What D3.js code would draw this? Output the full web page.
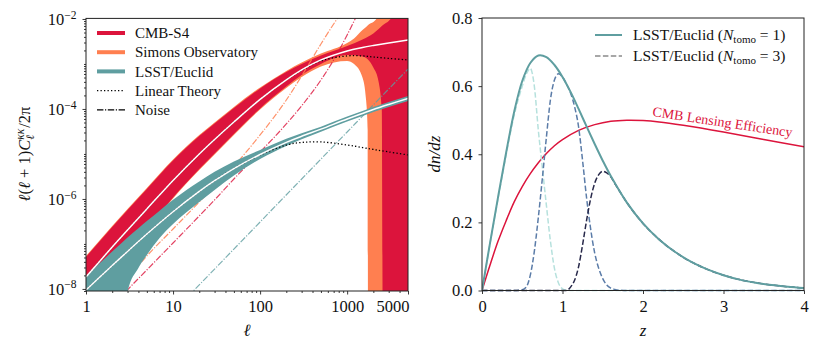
<!DOCTYPE html>
<html><head><meta charset="utf-8">
<script src="https://cdn.jsdelivr.net/npm/d3@7"></script>
<style>
body{margin:0;background:#fff}
svg text{font-family:'Liberation Serif','Times New Roman',serif;fill:#111}
</style></head>
<body><svg id="c" width="830" height="356"></svg>
<script>
// ---------------- data: left panel (multipole ell) ----------------
const ells      = [1,2,3,5,10,20,30,50,100,200,300,500,1000,1500,2000,3000,5000];
const cmbSignal = [1.85e-8,8.57e-8,2.05e-7,6.0e-7,2.58e-6,1.0e-5,2.10e-5,5.14e-5,1.63e-4,4.41e-4,7.36e-4,1.23e-3,1.95e-3,2.33e-3,2.58e-3,2.93e-3,3.41e-3];
const cmbLinear = [1.85e-8,8.57e-8,2.05e-7,6.0e-7,2.58e-6,1.0e-5,2.10e-5,5.14e-5,1.63e-4,4.41e-4,7.2e-4,1.17e-3,1.51e-3,1.51e-3,1.43e-3,1.33e-3,1.23e-3];
const galSignal = [9.5e-9,3.31e-8,6.81e-8,1.66e-7,5.20e-7,1.47e-6,2.54e-6,4.74e-6,9.75e-6,1.81e-5,2.47e-5,3.56e-5,6.0e-5,7.94e-5,9.75e-5,1.26e-4,1.71e-4];
const galLinear = [9.5e-9,3.31e-8,6.81e-8,1.66e-7,5.20e-7,1.47e-6,2.54e-6,4.74e-6,9.5e-6,1.58e-5,1.80e-5,1.85e-5,1.58e-5,1.39e-5,1.26e-5,1.11e-5,9.5e-6];

const galEll    = [1,2,2.6,3,4,5,7,10,20,30,50,100,200,300,500,1000,1500,2000,3000,5000];
const galUpper  = [1.95e-8,6.78e-8,1.08e-7,1.39e-7,2.24e-7,3.23e-7,5.50e-7,9.6e-7,2.45e-6,4.02e-6,6.78e-6,1.23e-5,2.17e-5,2.88e-5,4.05e-5,6.81e-5,9.03e-5,1.11e-4,1.43e-4,1.95e-4];
const galLower  = [0,0,0,8.57e-9,2.93e-8,5.70e-8,1.36e-7,2.78e-7,8.57e-7,1.58e-6,3.31e-6,7.74e-6,1.51e-5,2.12e-5,3.13e-5,5.28e-5,6.99e-5,8.57e-5,1.11e-4,1.51e-4];

const s4Ells  = [1,2,3,5,10,20,30,50,100,200,300,500,1000,1500,2000,2300,2500,2580,3000,5000];
const s4Upper = [5.14e-8,2.39e-7,5.70e-7,1.67e-6,7.17e-6,2.51e-5,4.76e-5,1.05e-4,2.86e-4,6.64e-4,1.0e-3,1.55e-3,2.51e-3,3.50e-3,4.76e-3,6.0e-3,6.99e-3,7.36e-3,9.03e-3,0.044];
const s4Lower = [6.64e-9,3.08e-8,7.36e-8,2.15e-7,1.08e-6,4.64e-6,1.03e-5,2.78e-5,1.03e-4,3.16e-4,5.70e-4,1.0e-3,1.58e-3,1.47e-3,8.36e-4,3.98e-4,9.5e-5,0,0,0];

const soEllsB = [1,2,3,5,10,20,30,50,100,200,300,500,1000,1200,1500,1650,1720,1740,2000,2400,3000,5000];
const soUpper = [5.41e-8,2.51e-7,6.0e-7,1.75e-6,7.55e-6,2.64e-5,5.01e-5,1.11e-4,3.0e-4,6.99e-4,1.08e-3,1.71e-3,2.93e-3,3.69e-3,5.70e-3,6.64e-3,7.17e-3,7.36e-3,8.57e-3,0.0129,0.0264,0.2];
const soLower = [6.31e-9,2.93e-8,6.99e-8,2.05e-7,1.03e-6,4.41e-6,9.75e-6,2.64e-5,9.75e-5,2.93e-4,5.14e-4,8.8e-4,1.17e-3,1.0e-3,5.01e-4,1.58e-4,3.41e-5,0,0,0,0,0];

const s4NoiseEll = [2,3,5,10,20,30,50,100,150,200,300,500,700,1000,1300];
const s4Noise    = [3.78e-9,9.5e-9,2.64e-8,1.05e-7,4.19e-7,9.5e-7,2.78e-6,1.11e-5,2.51e-5,4.64e-5,1.17e-4,4.41e-4,1.23e-3,4.41e-3,1.23e-2];
const soNoiseEll = [2,3,5,10,20,30,50,100,200,300,500,700,900];
const soNoise    = [7.74e-9,1.75e-8,5.41e-8,2.15e-7,8.57e-7,1.95e-6,5.41e-6,2.64e-5,1.58e-4,5.41e-4,2.78e-3,7.74e-3,1.58e-2];
const lsstNoiseEll = [10,20,100,1000,5000];
const lsstNoise    = [3.08e-9,1.23e-8,3.08e-7,3.08e-5,7.7e-4];

const xTicksL = [1,10,100,1000,5000];
const yTicksL = [1e-8,1e-6,1e-4,1e-2];
const legendL = ['CMB-S4','Simons Observatory','LSST/Euclid','Linear Theory','Noise'];

// ---------------- data: right panel (redshift) ----------------
const zAll   = [0,0.1,0.2,0.3,0.4,0.5,0.6,0.7,0.8,0.9,1.0,1.1,1.2,1.3,1.4,1.5,1.6,1.8,2.0,2.2,2.4,2.6,2.8,3.0,3.2,3.4,3.6,3.8,4.0];
const dndzAll= [0,0.14,0.275,0.405,0.525,0.615,0.668,0.69,0.685,0.662,0.627,0.583,0.533,0.481,0.43,0.381,0.336,0.258,0.197,0.150,0.113,0.084,0.062,0.045,0.032,0.023,0.016,0.011,0.007];
const zEff   = [0,0.1,0.2,0.3,0.4,0.5,0.6,0.7,0.8,0.9,1.0,1.2,1.4,1.6,1.8,2.0,2.2,2.5,3.0,3.5,4.0];
const lensEff= [0,0.075,0.145,0.205,0.26,0.305,0.343,0.375,0.402,0.425,0.443,0.470,0.487,0.497,0.500,0.499,0.495,0.485,0.465,0.443,0.422];
const zBin   = [0,0.1,0.2,0.3,0.4,0.5,0.55,0.6,0.65,0.7,0.75,0.8,0.85,0.9,0.95,1.0,1.05,1.1,1.15,1.2,1.25,1.3,1.35,1.4,1.45,1.5,1.55,1.6,1.65,1.7,1.8,2.0,2.2,2.4,2.6,2.8,3.0,3.2,3.4,3.6,3.8,4.0];
const bin1   = [0,0.138,0.27,0.398,0.515,0.60,0.635,0.652,0.60,0.47,0.36,0.25,0.145,0.065,0.022,0.005,0.001,0,0,0,0,0,0,0,0,0,0,0,0,0,0,0,0,0,0,0,0,0,0,0,0,0];
const bin2   = [0,0,0,0,0,0.002,0.01,0.045,0.115,0.215,0.33,0.45,0.56,0.618,0.636,0.627,0.606,0.58,0.54,0.48,0.38,0.27,0.18,0.11,0.065,0.035,0.016,0.007,0.003,0.001,0,0,0,0,0,0,0,0,0,0,0,0];
const bin3   = [0,0,0,0,0,0,0,0,0,0,0,0,0,0,0,0,0,0.01,0.03,0.07,0.135,0.207,0.27,0.315,0.34,0.35,0.345,0.334,0.314,0.295,0.258,0.197,0.150,0.113,0.084,0.062,0.045,0.032,0.023,0.016,0.011,0.007];
const xTicksR = [0,1,2,3,4];
const yTicksR = [0,0.2,0.4,0.6,0.8];

// ---------------- styles ----------------
const CRIMSON='#dc143c', CORAL='#ff7f50', TEAL='#5f9ea0', AXC='#222';
const TICKF=16.5, LEGF=15;

const svg=d3.select('#c');
const zip=(a,b,c)=>a.map((v,i)=>({l:v,a:b[i],b:c?c[i]:null}));

// =============== LEFT PANEL ===============
const L={x0:86,x1:408,y0:18.4,y1:291};
const xL=d3.scaleLog().domain([1,5000]).range([L.x0,L.x1]);
const yL=d3.scaleLog().domain([9e-9,1.03e-2]).range([L.y1,L.y0]);
const yc=v=>yL(Math.min(Math.max(v,1e-10),10));

svg.append('clipPath').attr('id','clipL').append('rect')
  .attr('x',L.x0).attr('y',L.y0).attr('width',L.x1-L.x0).attr('height',L.y1-L.y0);
const gL=svg.append('g');
const pL=gL.append('g').attr('clip-path','url(#clipL)');

const area=d3.area().x(d=>xL(d.l)).y0(d=>yc(d.b)).y1(d=>yc(d.a)).curve(d3.curveMonotoneX);
const line=d3.line().x(d=>xL(d.l)).y(d=>yc(d.a)).curve(d3.curveCatmullRom.alpha(0.5));
const lineM=d3.line().x(d=>xL(d.l)).y(d=>yc(d.a)).curve(d3.curveMonotoneX);

pL.append('path').datum(zip(soEllsB,soUpper,soLower)).attr('d',area).attr('fill',CORAL);
pL.append('path').datum(zip(s4Ells,s4Upper,s4Lower)).attr('d',area).attr('fill',CRIMSON);

const dashdot='6.4,1.6,1.2,1.6';
pL.append('path').datum(zip(soNoiseEll,soNoise)).attr('d',lineM).attr('fill','none')
  .attr('stroke',CORAL).attr('stroke-opacity',0.85).attr('stroke-width',1.2).attr('stroke-dasharray',dashdot);
pL.append('path').datum(zip(s4NoiseEll,s4Noise)).attr('d',lineM).attr('fill','none')
  .attr('stroke',CRIMSON).attr('stroke-opacity',0.8).attr('stroke-width',1.2).attr('stroke-dasharray',dashdot);
pL.append('path').datum(zip(lsstNoiseEll,lsstNoise)).attr('d',lineM).attr('fill','none')
  .attr('stroke',TEAL).attr('stroke-opacity',0.8).attr('stroke-width',1.2).attr('stroke-dasharray',dashdot);

pL.append('path').datum(zip(galEll,galUpper,galLower)).attr('d',area).attr('fill',TEAL);

pL.append('path').datum(zip(ells,cmbLinear)).attr('d',line).attr('fill','none')
  .attr('stroke','#000').attr('stroke-width',1.3).attr('stroke-dasharray','1.3,2.2');
pL.append('path').datum(zip(ells,galLinear)).attr('d',line).attr('fill','none')
  .attr('stroke','#000').attr('stroke-width',1.3).attr('stroke-dasharray','1.3,2.2');
pL.append('path').datum(zip(ells,cmbSignal)).attr('d',line).attr('fill','none')
  .attr('stroke','#fff').attr('stroke-width',1.5);
pL.append('path').datum(zip(ells,galSignal)).attr('d',line).attr('fill','none')
  .attr('stroke','#fff').attr('stroke-width',1.5);

// axes
function styleAxis(g){
  g.select('.domain').remove();
  g.selectAll('.tick line').attr('stroke',AXC).attr('stroke-width',0.9);
  g.selectAll('.tick text').style('font-size',TICKF+'px').attr('fill','#111');
}
const minorX=[];
[1,10,100,1000].forEach(d=>{for(let k=2;k<=9;k++){const v=k*d; if(v<5000) minorX.push(v);}});
const minorY=[];
for(let e=-9;e<=-3;e++){for(let k=1;k<=9;k++){const v=k*Math.pow(10,e); if(v>=9e-9&&v<=1.03e-2 && !(k===1&&e%2===0)) minorY.push(v);}}

gL.append('g').attr('transform',`translate(0,${L.y1})`)
  .call(d3.axisBottom(xL).tickValues(minorX).tickSize(2).tickFormat('')).call(styleAxis);
const gxL=gL.append('g').attr('transform',`translate(0,${L.y1})`)
  .call(d3.axisBottom(xL).tickValues(xTicksL).tickSize(3.5).tickPadding(6).tickFormat(d3.format('d'))).call(styleAxis);
gxL.selectAll('.tick text').filter(d=>d===5000).attr('text-anchor','end').attr('x',1);

gL.append('g').attr('transform',`translate(${L.x0},0)`)
  .call(d3.axisLeft(yL).tickValues(minorY).tickSize(2).tickFormat('')).call(styleAxis);
const gyL=gL.append('g').attr('transform',`translate(${L.x0},0)`)
  .call(d3.axisLeft(yL).tickValues(yTicksL).tickSize(3.5).tickPadding(6).tickFormat('')).call(styleAxis);
gyL.selectAll('.tick text').each(function(d){
  const e=Math.round(Math.log10(d));
  const t=d3.select(this).text(null).attr('dy','0.36em');
  t.append('tspan').text('10');
  t.append('tspan').attr('dy','-0.6em').style('font-size','11.5px').text('\u2212'+Math.abs(e));
});

gL.append('rect').attr('x',L.x0).attr('y',L.y0).attr('width',L.x1-L.x0).attr('height',L.y1-L.y0)
  .attr('fill','none').attr('stroke',AXC).attr('stroke-width',1);

// axis labels
gL.append('text').attr('x',(L.x0+L.x1)/2).attr('y',336).attr('text-anchor','middle')
  .style('font-size','17px').style('font-style','italic').text('\u2113');
{
  const yl=gL.append('text').attr('transform','translate(30,154) rotate(-90)').attr('text-anchor','middle').style('font-size','16.5px');
  yl.append('tspan').style('font-style','italic').text('\u2113');
  yl.append('tspan').text('(');
  yl.append('tspan').style('font-style','italic').text('\u2113');
  yl.append('tspan').text(' + 1)');
  yl.append('tspan').style('font-style','italic').text('C');
  const sup=yl.append('tspan').attr('dy',-6.5).style('font-size','11.5px').style('font-style','italic').text('\u03ba\u03ba');
  const supW=sup.node().getComputedTextLength();
  const sub=yl.append('tspan').attr('dx',-supW).attr('dy',10.5).style('font-size','11.5px').style('font-style','italic').text('\u2113');
  const subW=sub.node().getComputedTextLength();
  yl.append('tspan').attr('dx',supW-subW+1).attr('dy',-4).text('/2\u03c0');
}

// legend left
const legRowsL=[
  {label:legendL[0],stroke:CRIMSON,w:4,dash:null},
  {label:legendL[1],stroke:CORAL,w:4,dash:null},
  {label:legendL[2],stroke:TEAL,w:4,dash:null},
  {label:legendL[3],stroke:'#000',w:1.3,dash:'1.3,2.2'},
  {label:legendL[4],stroke:'#000',w:1.3,dash:'6.4,1.6,1.2,1.6'}];
legRowsL.forEach((r,i)=>{
  const y=33+i*19.2;
  gL.append('line').attr('x1',97).attr('x2',125).attr('y1',y).attr('y2',y)
    .attr('stroke',r.stroke).attr('stroke-width',r.w).attr('stroke-dasharray',r.dash);
  gL.append('text').attr('x',135).attr('y',y).attr('dy','0.34em').style('font-size',LEGF+'px').text(r.label);
});

// =============== RIGHT PANEL ===============
const R={x0:482,x1:804,y0:18,y1:290.5};
const xR=d3.scaleLinear().domain([0,4]).range([R.x0,R.x1]);
const yR=d3.scaleLinear().domain([0,0.8]).range([R.y1,R.y0]);
svg.append('clipPath').attr('id','clipR').append('rect')
  .attr('x',R.x0).attr('y',R.y0-2).attr('width',R.x1-R.x0).attr('height',R.y1-R.y0+4);
const gR=svg.append('g');
const pR=gR.append('g').attr('clip-path','url(#clipR)');
const lineR=d3.line().x(d=>xR(d.l)).y(d=>yR(d.a)).curve(d3.curveMonotoneX);
const lineRs=d3.line().x(d=>xR(d.l)).y(d=>yR(d.a)).curve(d3.curveCatmullRom.alpha(0.5));

pR.append('path').datum(zip(zEff,lensEff)).attr('d',lineRs).attr('fill','none')
  .attr('stroke',CRIMSON).attr('stroke-width',1.5);
const binCols=['#b6e1dd','#5b7ca8','#27284a'];
[bin1,bin2,bin3].forEach((b,i)=>{
  pR.append('path').datum(zip(zBin,b)).attr('d',lineR).attr('fill','none')
    .attr('stroke',binCols[i]).attr('stroke-width',1.5).attr('stroke-dasharray','5.5,2.4');
});
pR.append('path').datum(zip(zAll,dndzAll)).attr('d',lineRs).attr('fill','none')
  .attr('stroke',TEAL).attr('stroke-width',2);

gR.append('g').attr('transform',`translate(0,${R.y1})`)
  .call(d3.axisBottom(xR).tickValues(xTicksR).tickSize(3.5).tickPadding(6).tickFormat(d3.format('d'))).call(styleAxis);
gR.append('g').attr('transform',`translate(${R.x0},0)`)
  .call(d3.axisLeft(yR).tickValues(yTicksR).tickSize(3.5).tickPadding(6).tickFormat(d3.format('.1f'))).call(styleAxis);
gR.append('rect').attr('x',R.x0).attr('y',R.y0).attr('width',R.x1-R.x0).attr('height',R.y1-R.y0)
  .attr('fill','none').attr('stroke',AXC).attr('stroke-width',1);

gR.append('text').attr('x',(R.x0+R.x1)/2).attr('y',336).attr('text-anchor','middle')
  .style('font-size','17px').style('font-style','italic').text('z');
gR.append('text').attr('transform','translate(440,154) rotate(-90)').attr('text-anchor','middle')
  .style('font-size','17px').style('font-style','italic').text('dn/dz');

gR.append('text').attr('transform',`translate(652,116) rotate(8.6)`)
  .style('font-size','14px').style('fill',CRIMSON).text('CMB Lensing Efficiency');

// legend right
[{n:'1',stroke:TEAL,dash:null,w:2},{n:'3',stroke:'#8a8a8a',dash:'5.5,2.4',w:1.5}].forEach((r,i)=>{
  const y=35+i*21;
  gR.append('line').attr('x1',595).attr('x2',622).attr('y1',y).attr('y2',y)
    .attr('stroke',r.stroke).attr('stroke-width',r.w).attr('stroke-dasharray',r.dash);
  const t=gR.append('text').attr('x',633).attr('y',y).attr('dy','0.34em').style('font-size','15.5px');
  t.append('tspan').text('LSST/Euclid (');
  t.append('tspan').style('font-style','italic').text('N');
  t.append('tspan').attr('dy',3).style('font-size','11px').text('tomo');
  t.append('tspan').attr('dy',-3).text(' = '+r.n+')');
});
</script></body></html>
